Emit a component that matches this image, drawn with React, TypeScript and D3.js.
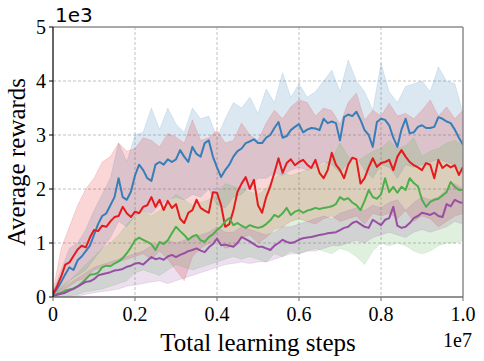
import * as d3 from 'd3';

// x values in units of 1e7 steps, y values in units of 1e3 reward
const lineSteps = d3.range(0, 101).map(i => i / 100);
const bandSteps = d3.range(0, 51).map(i => i / 50);

const blueMean = [
  0.05, 0.15, 0.28, 0.42, 0.55, 0.5, 0.68, 0.75, 0.85, 0.95,
  1.15, 1.35, 1.5, 1.55, 1.7, 1.85, 2.2, 1.85, 1.8, 1.95,
  2.25, 2.45, 2.35, 2.2, 2.15, 2.45, 2.5, 2.45, 2.55, 2.5,
  2.55, 2.72, 2.6, 2.5, 2.78, 2.65, 2.6, 2.85, 2.9, 2.6,
  2.4, 2.22, 2.35, 2.45, 2.6, 2.7, 2.75, 2.85, 2.88, 2.92,
  2.85, 2.85, 2.95, 3.0, 3.13, 3.24, 2.95, 2.98, 3.09, 3.15,
  3.2, 3.05, 3.1, 3.13, 3.12, 3.09, 3.3, 3.22, 3.25, 3.22,
  2.9, 3.33, 3.38, 3.35, 3.43, 3.28, 3.09, 3.0, 2.78, 3.24,
  3.3, 3.28, 3.18, 2.95, 2.78, 3.1, 3.3, 3.03, 3.05, 3.15,
  3.18, 3.13, 3.13, 3.15, 3.33, 3.3, 3.25, 3.22, 3.1, 2.95,
  2.82,
];
const redMean = [
  0.05, 0.2, 0.38, 0.6, 0.64, 0.76, 0.88, 0.95, 0.92, 1.1,
  1.24, 1.22, 1.32, 1.3, 1.4, 1.48, 1.5, 1.67, 1.55, 1.48,
  1.58, 1.55, 1.67, 1.7, 1.85, 1.67, 1.8, 1.61, 1.78, 1.65,
  1.72, 1.45, 1.37, 1.56, 1.61, 1.8, 1.65, 1.6, 1.56, 1.94,
  1.93, 1.7, 1.3, 1.35, 1.6, 1.95, 2.1, 2.22, 2.0, 2.17,
  1.7, 1.56, 1.85, 2.05, 2.3, 2.57, 2.3, 2.48, 2.55, 2.44,
  2.5, 2.54, 2.45, 2.39, 2.54, 2.3, 2.2, 2.35, 2.67, 2.45,
  2.35, 2.2, 2.45, 2.58, 2.55, 2.1, 2.2, 2.4, 2.57, 2.41,
  2.48, 2.5, 2.54, 2.35, 2.6, 2.72, 2.6, 2.5, 2.44, 2.4,
  2.35, 2.48, 2.45, 2.2, 2.54, 2.39, 2.45, 2.4, 2.44, 2.26,
  2.41,
];
const greenMean = [
  0.02, 0.05, 0.08, 0.12, 0.14, 0.16, 0.2, 0.26, 0.33, 0.41,
  0.42, 0.45, 0.55, 0.58, 0.57, 0.62, 0.66, 0.72, 0.81, 0.92,
  1.05, 1.1, 1.06, 1.02, 0.98, 0.87, 1.02, 0.98, 1.05, 1.18,
  1.3, 1.22, 1.15, 1.06, 1.12, 1.15, 1.05, 1.02, 1.11, 1.16,
  1.24, 1.3, 1.4, 1.46, 1.33, 1.37, 1.32, 1.28, 1.33, 1.3,
  1.28, 1.3, 1.35, 1.42, 1.52, 1.48, 1.55, 1.65, 1.52, 1.58,
  1.61, 1.56, 1.6, 1.62, 1.65, 1.63, 1.65, 1.66, 1.68, 1.72,
  1.85, 1.8, 1.83, 1.75, 1.7, 1.61, 1.78, 1.98, 1.85, 1.82,
  1.9, 2.2, 1.94, 2.04, 1.93, 2.04, 1.98, 2.2, 2.11, 2.05,
  1.8, 1.67, 1.76, 1.8, 1.82, 1.88, 1.94, 2.13, 2.04, 1.98,
  1.98,
];
const purpleMean = [
  0.02, 0.04, 0.06, 0.08, 0.12, 0.15, 0.19, 0.24, 0.28, 0.29,
  0.33, 0.4, 0.42, 0.44, 0.46, 0.49, 0.5, 0.52, 0.56, 0.58,
  0.62, 0.63, 0.6, 0.67, 0.74, 0.7, 0.72, 0.69, 0.75, 0.78,
  0.74, 0.78, 0.81, 0.85, 0.87, 0.9, 0.86, 0.83, 0.92, 0.98,
  1.08, 0.96, 0.97, 0.95, 0.93, 1.0, 1.11, 1.07, 1.03, 0.98,
  0.93, 0.93, 0.9, 0.87, 0.95, 1.0, 1.06, 1.02, 1.0, 1.02,
  1.06, 1.09, 1.1, 1.11, 1.13, 1.15, 1.16, 1.18, 1.19, 1.2,
  1.24, 1.28, 1.3, 1.37, 1.4, 1.35, 1.3, 1.28, 1.43, 1.38,
  1.33, 1.43, 1.46, 1.67, 1.32, 1.28, 1.3, 1.37, 1.46, 1.5,
  1.56, 1.54, 1.52, 1.56, 1.5, 1.48, 1.72, 1.68, 1.8, 1.76,
  1.74,
];

const blueUpper = [
  0.1, 0.5, 0.9, 1.0, 1.25, 1.6, 1.9, 2.2, 2.85, 2.5,
  3.0, 3.05, 3.5, 3.1, 3.5, 3.2, 3.05, 3.5, 3.3, 3.35,
  2.95, 3.3, 3.6, 3.5, 3.7, 3.4, 3.85, 3.6, 4.15, 3.7,
  3.95, 3.7, 3.8, 4.0, 4.2, 3.8, 4.39, 4.0, 3.8, 3.46,
  4.33, 3.8, 3.6, 3.9, 3.95, 4.0, 3.8, 4.26, 4.0, 3.95,
  3.4,
];
const blueLower = [
  0.0, 0.15, 0.3, 0.4, 0.5, 0.7, 0.9, 1.1, 1.4, 1.3,
  1.5, 1.6, 1.55, 1.7, 1.8, 1.85, 1.8, 1.9, 1.85, 2.0,
  1.7, 1.65, 1.85, 1.9, 2.05, 2.2, 2.2, 2.3, 2.25, 2.35,
  2.4, 2.35, 2.4, 2.5, 2.45, 2.3, 2.5, 2.6, 2.35, 2.2,
  2.45, 2.4, 2.2, 2.45, 2.4, 2.45, 2.5, 2.55, 2.5, 2.45,
  2.3,
];
const redUpper = [
  0.1, 0.9, 1.3, 1.7, 2.0, 2.2, 2.5, 2.6, 2.85, 2.7,
  2.75, 2.95, 2.9, 2.78, 3.03, 2.96, 2.85, 3.28, 2.9, 2.95,
  3.09, 2.85, 2.9, 3.22, 3.0, 2.9, 3.22, 3.46, 3.3, 3.52,
  3.65, 3.6, 3.35, 3.5, 3.45, 3.2, 3.6, 3.78, 3.28, 3.46,
  3.35, 3.59, 3.35, 3.4, 3.3, 3.46, 3.65, 3.35, 3.52, 3.3,
  3.46,
];
const redLower = [
  0.0, 0.1, 0.2, 0.3, 0.35, 0.5, 0.55, 0.6, 0.65, 0.7,
  0.75, 0.8, 0.7, 0.85, 0.7, 0.5, 0.3, 0.75, 0.9, 1.0,
  1.05, 0.9, 0.95, 1.1, 1.15, 1.0, 1.1, 1.25, 1.3, 1.4,
  1.45, 1.4, 1.35, 1.45, 1.5, 1.4, 1.45, 1.5, 1.35, 1.55,
  1.5, 1.55, 1.45, 1.6, 1.4, 1.5, 1.45, 1.3, 1.4, 1.5,
  1.55,
];
const greenUpper = [
  0.05, 0.2, 0.3, 0.45, 0.6, 0.75, 0.9, 1.0, 1.15, 1.35,
  1.5, 1.6, 1.5, 1.6, 1.75, 1.9, 1.8, 1.7, 1.75, 1.8,
  1.9, 2.1, 2.05, 2.0, 1.95, 1.9, 2.0, 2.2, 2.3, 2.25,
  2.3, 2.35, 2.4, 2.45, 2.55, 2.85, 2.6, 2.5, 2.6, 2.7,
  2.75, 2.9, 2.75, 2.8, 2.95, 2.6, 2.7, 2.75, 2.85, 2.9,
  2.8,
];
const greenLower = [
  0.0, 0.0, 0.02, 0.05, 0.1, 0.12, 0.15, 0.2, 0.25, 0.3,
  0.45, 0.5, 0.45, 0.4, 0.5, 0.6, 0.55, 0.5, 0.55, 0.6,
  0.65, 0.7, 0.75, 0.7, 0.75, 0.7, 0.65, 0.8, 0.75, 0.85,
  0.8, 0.85, 0.9, 0.85, 0.8, 0.9, 0.85, 0.75, 0.6, 0.85,
  1.0, 0.95, 1.0, 0.95, 0.85, 0.8, 0.85, 0.95, 1.0, 1.0,
  1.05,
];
const purpleUpper = [
  0.05, 0.15, 0.25, 0.35, 0.45, 0.55, 0.6, 0.65, 0.7, 0.75,
  0.8, 0.85, 0.95, 1.0, 1.05, 1.0, 1.05, 1.1, 1.15, 1.2,
  1.3, 1.2, 1.2, 1.3, 1.25, 1.2, 1.15, 1.2, 1.3, 1.3,
  1.35, 1.4, 1.45, 1.5, 1.45, 1.55, 1.6, 1.65, 1.6, 1.7,
  1.65, 1.75, 1.8, 1.6, 1.75, 1.85, 1.8, 1.85, 2.0, 2.1,
  2.0,
];
const purpleLower = [
  0.0, 0.0, 0.0, 0.02, 0.05, 0.08, 0.1, 0.12, 0.15, 0.2,
  0.22, 0.25, 0.28, 0.3, 0.25, 0.3, 0.35, 0.4, 0.45, 0.5,
  0.55, 0.6, 0.62, 0.65, 0.62, 0.65, 0.65, 0.7, 0.75, 0.8,
  0.8, 0.85, 0.85, 0.9, 0.95, 0.95, 1.0, 1.05, 1.0, 1.1,
  1.15, 1.2, 1.15, 1.1, 1.2, 1.25, 1.2, 1.25, 1.3, 1.4,
  1.35,
];

const series = [
  { name: 'blue', color: '#377eb8', mean: blueMean, upper: blueUpper, lower: blueLower },
  { name: 'red', color: '#e41a1c', mean: redMean, upper: redUpper, lower: redLower },
  { name: 'green', color: '#4daf4a', mean: greenMean, upper: greenUpper, lower: greenLower },
  { name: 'purple', color: '#984ea3', mean: purpleMean, upper: purpleUpper, lower: purpleLower },
];

const xTicks = [0, 0.2, 0.4, 0.6, 0.8, 1.0];
const xTickLabels = ['0', '0.2', '0.4', '0.6', '0.8', '1.0'];
const yTicks = [0, 1, 2, 3, 4, 5];

const width = 484;
const height = 361;
const margin = { top: 27, right: 21, bottom: 64, left: 53 };
const serif = '"Liberation Serif", "Times New Roman", serif';

export default function App() {
  const x = d3.scaleLinear().domain([0, 1]).range([margin.left, width - margin.right]);
  const y = d3.scaleLinear().domain([0, 5]).range([height - margin.bottom, margin.top]);

  const line = d3.line<number>()
    .x((_, i) => x(lineSteps[i]))
    .y(d => y(d));

  const area = (upper: number[], lower: number[]) =>
    d3.area<number>()
      .x((_, i) => x(bandSteps[i]))
      .y0((_, i) => y(lower[i]))
      .y1(d => y(d))(upper);

  const [x0, x1] = x.range();
  const [y0, y1] = y.range();

  return (
    <svg width={width} height={height} style={{ position: 'absolute', left: 0, top: 0, background: '#fff' }}>
      <defs>
        <clipPath id="plot">
          <rect x={x0} y={y1} width={x1 - x0} height={y0 - y1} />
        </clipPath>
      </defs>

      {/* grid */}
      <g stroke="#b0b0b0" strokeWidth={0.8} strokeDasharray="3,2">
        {xTicks.slice(1, -1).map(t => (
          <line key={'gx' + t} x1={x(t)} x2={x(t)} y1={y1} y2={y0} />
        ))}
        {yTicks.slice(1, -1).map(t => (
          <line key={'gy' + t} x1={x0} x2={x1} y1={y(t)} y2={y(t)} />
        ))}
      </g>

      <g clipPath="url(#plot)">
        {series.map(s => (
          <path key={'band' + s.name} d={area(s.upper, s.lower) || ''}
            fill={s.color} fillOpacity={0.18} stroke={s.color} strokeOpacity={0.18} strokeWidth={0.8} />
        ))}
        {series.map(s => (
          <path key={'line' + s.name} d={line(s.mean) || ''}
            fill="none" stroke={s.color} strokeWidth={2} strokeLinejoin="round" />
        ))}
      </g>

      {/* spines */}
      <line x1={x0} x2={x1} y1={y1} y2={y1} stroke="#8c8c8c" strokeWidth={1.5} />
      <line x1={x1} x2={x1} y1={y1} y2={y0} stroke="#8c8c8c" strokeWidth={1.5} />
      <line x1={x0} x2={x1} y1={y0} y2={y0} stroke="#6e6e6e" strokeWidth={1.5} />
      <line x1={x0} x2={x0} y1={y1} y2={y0} stroke="#000" strokeWidth={1.2} />

      {/* y axis */}
      {yTicks.map(t => (
        <g key={'yt' + t}>
          <line x1={x0 - 4} x2={x0} y1={y(t)} y2={y(t)} stroke="#000" strokeWidth={1} />
          <text x={x0 - 7} y={y(t)} dy="0.35em" textAnchor="end" fontFamily={serif} fontSize={20} fill="#000">{t}</text>
        </g>
      ))}
      <text x={55} y={22} fontFamily='"DejaVu Sans", sans-serif' fontSize={20} fill="#000">1e3</text>
      <text transform={`translate(25, ${(y0 + y1) / 2}) rotate(-90)`} textAnchor="middle"
        fontFamily={serif} fontSize={25} fill="#000">Average rewards</text>

      {/* x axis */}
      {xTicks.map((t, i) => (
        <g key={'xt' + t}>
          <line x1={x(t)} x2={x(t)} y1={y0} y2={y0 + 4} stroke="#6e6e6e" strokeWidth={1} />
          <text x={x(t)} y={321} textAnchor="middle" fontFamily={serif} fontSize={20} fill="#000">{xTickLabels[i]}</text>
        </g>
      ))}
      <text x={(x0 + x1) / 2} y={351} textAnchor="middle" fontFamily={serif} fontSize={25} fill="#000">Total learning steps</text>
      <text x={472} y={347} textAnchor="end" fontFamily={serif} fontSize={20} fill="#000">1e7</text>
    </svg>
  );
}
